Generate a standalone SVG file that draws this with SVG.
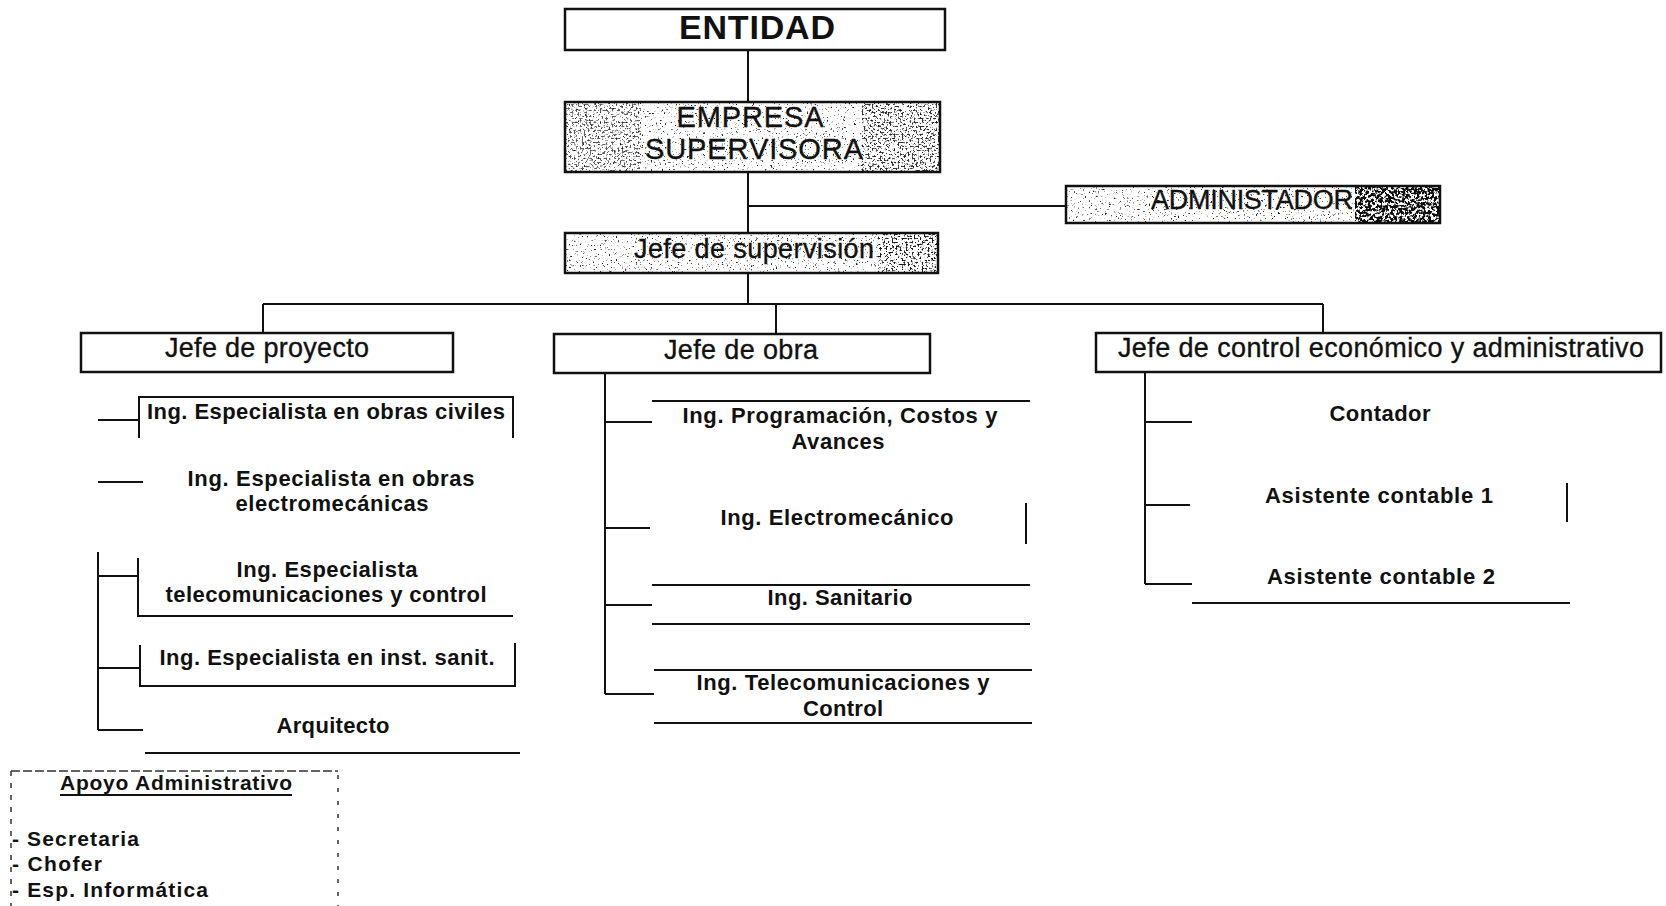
<svg xmlns="http://www.w3.org/2000/svg" width="1666" height="906" viewBox="0 0 1666 906">
  <defs>
    <style>
      .box{fill:#fff;stroke:#111;stroke-width:2.5}
      .ln{fill:none;stroke:#111;stroke-width:2}
      .dash{fill:none;stroke:#333;stroke-width:1.5}
      .t{font-family:"Liberation Sans",Arial,Helvetica,sans-serif;fill:#111;text-anchor:middle}
      .s{text-anchor:start}
      .b{font-weight:bold}
      .h{font-size:27px;stroke:#111;stroke-width:0.35}
      .big{font-size:29px}
      .i{font-size:22px;font-weight:bold}
      .a{font-size:21px;font-weight:bold}
    </style>
    <!-- speckled fill for the shaded boxes -->
    <filter id="grain" x="0" y="0" width="1" height="1" color-interpolation-filters="sRGB">
      <feTurbulence type="fractalNoise" baseFrequency="0.55" numOctaves="2" seed="7"/>
      <feColorMatrix type="matrix" values="0 0 0 0 0.15  0 0 0 0 0.15  0 0 0 0 0.15  8 0 0 0 -5.1"/>
    </filter>
    <filter id="grainDense" x="0" y="0" width="1" height="1" color-interpolation-filters="sRGB">
      <feTurbulence type="fractalNoise" baseFrequency="0.5" numOctaves="2" seed="11"/>
      <feColorMatrix type="matrix" values="0 0 0 0 0.1  0 0 0 0 0.1  0 0 0 0 0.1  9 0 0 0 -4.9"/>
    </filter>
    <filter id="grainDark" x="0" y="0" width="1" height="1" color-interpolation-filters="sRGB">
      <feTurbulence type="fractalNoise" baseFrequency="0.35" numOctaves="2" seed="19"/>
      <feColorMatrix type="matrix" values="0 0 0 0 0.05  0 0 0 0 0.05  0 0 0 0 0.05  10 0 0 0 -4.4"/>
    </filter>
  </defs>

  <rect width="1666" height="906" fill="#fff"/>

  <!-- connectors -->
  <g id="connectors" class="ln">
    <path d="M748,50 V102"/>
    <path d="M748,172 V233"/>
    <path d="M748,206 H1066"/>
    <path d="M748,273 V304"/>
    <path d="M263,304 H1323"/>
    <path d="M263,304 V333 M776,304 V334 M1323,304 V333"/>
    <!-- Jefe de proyecto branch -->
    <path d="M98,420 H139 M98,482 H143"/>
    <path d="M98,552 V730"/>
    <path d="M98,576 H138 M98,668 H140 M98,730 H143"/>
    <!-- Jefe de obra branch -->
    <path d="M605,373 V694"/>
    <path d="M605,422 H652 M605,528 H650 M605,605 H652 M605,694 H654"/>
    <!-- Jefe de control branch -->
    <path d="M1145,372 V584"/>
    <path d="M1145,422 H1192 M1145,505 H1190 M1145,584 H1192"/>
  </g>

  <g id="entidad">
    <rect class="box" x="565" y="9" width="380" height="41"/>
    <text class="t b" x="757" y="39" font-size="34" textLength="156">ENTIDAD</text>
  </g>

  <g id="empresa-supervisora">
    <rect class="box" x="565" y="102" width="375" height="70"/>
    <rect x="566" y="103" width="373" height="68" fill="#fff" filter="url(#grain)"/>
    <rect x="566" y="103" width="75" height="68" fill="#fff" filter="url(#grainDense)" opacity="0.7"/>
    <rect x="862" y="103" width="77" height="68" fill="#fff" filter="url(#grainDense)" opacity="0.9"/>
    <text class="t h big" x="750" y="127" textLength="147">EMPRESA</text>
    <text class="t h big" x="754" y="159" textLength="218">SUPERVISORA</text>
  </g>

  <g id="administador">
    <rect class="box" x="1066" y="186" width="374" height="37"/>
    <rect x="1067" y="187" width="372" height="35" fill="#fff" filter="url(#grain)"/>
    <rect x="1355" y="187" width="84" height="35" fill="#fff" filter="url(#grainDark)"/>
    <text class="t h" x="1252" y="209" textLength="202">ADMINISTADOR</text>
  </g>

  <g id="jefe-supervision">
    <rect class="box" x="565" y="233" width="373" height="40"/>
    <rect x="566" y="234" width="371" height="38" fill="#fff" filter="url(#grain)"/>
    <rect x="878" y="234" width="59" height="38" fill="#fff" filter="url(#grainDense)"/>
    <text class="t h" x="754" y="258" textLength="240">Jefe de supervisión</text>
  </g>

  <g id="jefe-proyecto">
    <rect class="box" x="81" y="333" width="372" height="39"/>
    <text class="t h" x="267" y="357" textLength="204">Jefe de proyecto</text>
  </g>

  <g id="jefe-obra">
    <rect class="box" x="554" y="334" width="376" height="39"/>
    <text class="t h" x="741" y="359" textLength="154">Jefe de obra</text>
  </g>

  <g id="jefe-control">
    <rect class="box" x="1096" y="333" width="565" height="39"/>
    <text class="t h" x="1381" y="357" textLength="526">Jefe de control económico y administrativo</text>
  </g>

  <!-- Jefe de proyecto staff -->
  <g id="ing-obras-civiles">
    <path class="ln" d="M139,438 V397 H513 V438"/>
    <text class="t i" x="326" y="419" textLength="358">Ing. Especialista en obras civiles</text>
  </g>

  <g id="ing-obras-electromecanicas">
    <text class="t i" x="331" y="486" textLength="287">Ing. Especialista en obras</text>
    <text class="t i" x="332" y="511" textLength="193">electromecánicas</text>
  </g>

  <g id="ing-telecomunicaciones">
    <path class="ln" d="M138,558 V616 H513"/>
    <text class="t i" x="327" y="577" textLength="181">Ing. Especialista</text>
    <text class="t i" x="326" y="602" textLength="321">telecomunicaciones y control</text>
  </g>

  <g id="ing-inst-sanit">
    <path class="ln" d="M140,645 V686 H515 V643"/>
    <text class="t i" x="327" y="665" textLength="335">Ing. Especialista en inst. sanit.</text>
  </g>

  <g id="arquitecto">
    <path class="ln" d="M145,753 H520"/>
    <text class="t i" x="333" y="733" textLength="113">Arquitecto</text>
  </g>

  <!-- Jefe de obra staff -->
  <g id="ing-programacion">
    <path class="ln" d="M652,401 H1030"/>
    <text class="t i" x="840" y="423" textLength="315">Ing. Programación, Costos y</text>
    <text class="t i" x="838" y="449" textLength="93">Avances</text>
  </g>

  <g id="ing-electromecanico">
    <path class="ln" d="M1026,503 V544"/>
    <text class="t i" x="837" y="525" textLength="233">Ing. Electromecánico</text>
  </g>

  <g id="ing-sanitario">
    <path class="ln" d="M652,585 H1030 M652,624 H1030"/>
    <text class="t i" x="840" y="605" textLength="145">Ing. Sanitario</text>
  </g>

  <g id="ing-telecom-control">
    <path class="ln" d="M654,670 H1032 M654,723 H1032"/>
    <text class="t i" x="843" y="690" textLength="293">Ing. Telecomunicaciones y</text>
    <text class="t i" x="843" y="716" textLength="80">Control</text>
  </g>

  <!-- Jefe de control staff -->
  <g id="contador">
    <text class="t i" x="1380" y="421" textLength="101">Contador</text>
  </g>

  <g id="asistente-contable-1">
    <path class="ln" d="M1567,483 V522"/>
    <text class="t i" x="1379" y="503" textLength="228">Asistente contable 1</text>
  </g>

  <g id="asistente-contable-2">
    <path class="ln" d="M1192,603 H1570"/>
    <text class="t i" x="1381" y="584" textLength="228">Asistente contable 2</text>
  </g>

  <!-- support staff panel -->
  <g id="apoyo-administrativo">
    <path class="dash" d="M11,771 H338" stroke-dasharray="9 3"/>
    <path class="dash" d="M11,771 V906" stroke-dasharray="5 7"/>
    <path class="dash" d="M338,775 V906" stroke="#666" stroke-width="1" stroke-dasharray="4 9"/>
    <text class="t a s" x="60" y="790" textLength="232">Apoyo Administrativo</text>
    <path class="ln" d="M60,795 H292" stroke-width="1.5"/>
    <text class="t a s" x="12" y="846" textLength="127">- Secretaria</text>
    <text class="t a s" x="12" y="871" textLength="90">- Chofer</text>
    <text class="t a s" x="12" y="897" textLength="196">- Esp. Informática</text>
  </g>
</svg>
